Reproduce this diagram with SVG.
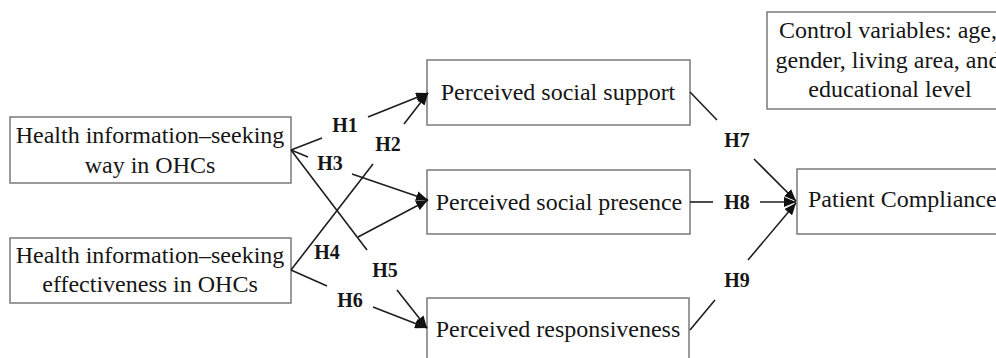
<svg xmlns="http://www.w3.org/2000/svg" width="996" height="358" viewBox="0 0 996 358">
  <defs>
    <marker id="arrow" viewBox="0 0 12 10" markerWidth="12" markerHeight="10" refX="12" refY="5" markerUnits="userSpaceOnUse" orient="auto">
      <path d="M0,0 L12,5 L0,10 z" fill="#111"/>
    </marker>
    <style>
      .box { fill: #ffffff; stroke: #7a7a7a; stroke-width: 1.5; }
      .txt { font-family: "Liberation Serif", "Times New Roman", serif; font-size: 24px; fill: #161616; }
      .lbl { font-family: "Liberation Serif", "Times New Roman", serif; font-size: 20px; font-weight: bold; fill: #161616; text-anchor: middle; }
      .ln { stroke: #1e1e1e; stroke-width: 1.6; fill: none; }
      .arr { stroke: #1e1e1e; stroke-width: 1.6; fill: none; marker-end: url(#arrow); }
    </style>
  </defs>
  <rect width="996" height="358" fill="#ffffff"/>

  <g id="node-way">
    <rect class="box" x="10" y="117" width="281" height="66"/>
    <text class="txt" x="150" y="143" text-anchor="middle">Health information–seeking</text>
    <text class="txt" x="150" y="173" text-anchor="middle">way in OHCs</text>
  </g>
  <g id="node-effectiveness">
    <rect class="box" x="10" y="238" width="281" height="65"/>
    <text class="txt" x="150" y="263" text-anchor="middle">Health information–seeking</text>
    <text class="txt" x="150" y="292" text-anchor="middle">effectiveness in OHCs</text>
  </g>
  <g id="node-support">
    <rect class="box" x="427" y="60" width="263" height="65"/>
    <text class="txt" x="558" y="100" text-anchor="middle">Perceived social support</text>
  </g>
  <g id="node-presence">
    <rect class="box" x="427" y="170" width="263" height="64"/>
    <text class="txt" x="559" y="210" text-anchor="middle">Perceived social presence</text>
  </g>
  <g id="node-responsiveness">
    <rect class="box" x="427" y="298" width="262" height="80"/>
    <text class="txt" x="558" y="337" text-anchor="middle">Perceived responsiveness</text>
  </g>
  <g id="node-compliance">
    <rect class="box" x="797" y="169" width="220" height="65"/>
    <text class="txt" x="808" y="207">Patient Compliance</text>
  </g>
  <g id="node-control">
    <rect class="box" x="767" y="12" width="250" height="97"/>
    <text class="txt" x="888" y="38" text-anchor="middle">Control variables: age,</text>
    <text class="txt" x="888" y="68" text-anchor="middle">gender, living area, and</text>
    <text class="txt" x="890" y="97" text-anchor="middle">educational level</text>
  </g>

  <g id="connectors">
    <!-- H1 -->
    <line class="ln" x1="291" y1="150" x2="322" y2="138"/>
    <line class="arr" x1="368" y1="117" x2="428" y2="93"/>
    <!-- H2 -->
    <line class="ln" x1="291" y1="270" x2="373" y2="164"/>
    <line class="arr" x1="404" y1="124" x2="428" y2="93"/>
    <!-- H3 -->
    <line class="ln" x1="291" y1="150" x2="308" y2="157"/>
    <line class="arr" x1="352" y1="174" x2="428" y2="200"/>
    <!-- H4 -->
    <line class="arr" x1="358" y1="237" x2="428" y2="200"/>
    <!-- H5 -->
    <line class="ln" x1="291" y1="150" x2="367" y2="250"/>
    <line class="arr" x1="397" y1="290" x2="427" y2="328"/>
    <!-- H6 -->
    <line class="ln" x1="291" y1="270" x2="327" y2="286"/>
    <line class="arr" x1="373" y1="307" x2="427" y2="328"/>
    <!-- H7 -->
    <line class="ln" x1="690" y1="92" x2="717" y2="120"/>
    <line class="arr" x1="754" y1="159" x2="796" y2="201"/>
    <!-- H8 -->
    <line class="ln" x1="690" y1="202" x2="713" y2="202"/>
    <line class="arr" x1="760" y1="202" x2="796" y2="202"/>
    <!-- H9 -->
    <line class="ln" x1="690" y1="330" x2="715" y2="300"/>
    <line class="arr" x1="748" y1="260" x2="796" y2="203"/>

    <text class="lbl" x="345" y="132">H1</text>
    <text class="lbl" x="388" y="151">H2</text>
    <text class="lbl" x="330" y="170">H3</text>
    <text class="lbl" x="327" y="259">H4</text>
    <text class="lbl" x="385" y="277">H5</text>
    <text class="lbl" x="350" y="307">H6</text>
    <text class="lbl" x="737" y="147">H7</text>
    <text class="lbl" x="737" y="209">H8</text>
    <text class="lbl" x="737" y="287">H9</text>
  </g>
</svg>
